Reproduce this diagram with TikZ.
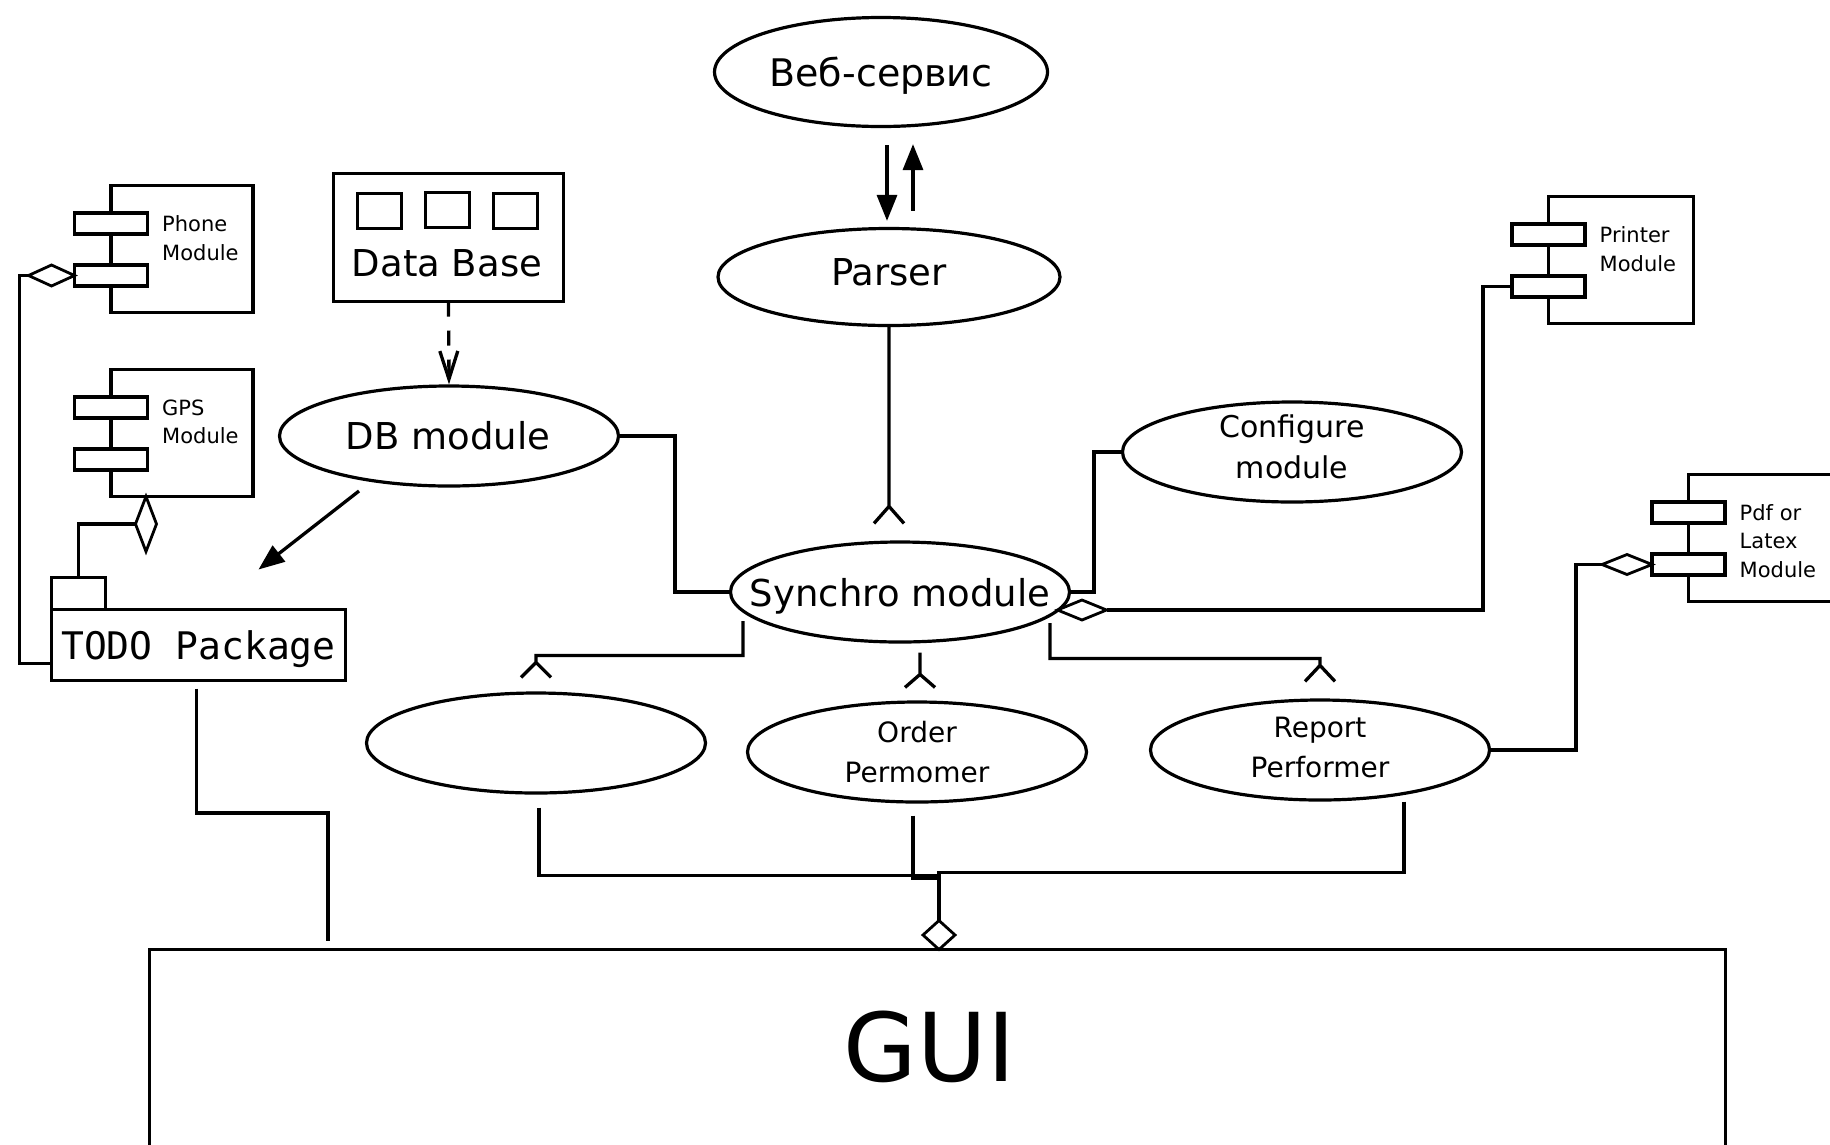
\documentclass[tikz,border=0pt]{standalone}
\usepackage{fontspec}
\setmainfont{DejaVu Sans}
\newfontfamily\dgmono{DejaVu Sans Mono}
\usetikzlibrary{shapes.geometric,arrows.meta,calc}

\tikzset{
  conn/.style={line width=3.3pt},
  farrow/.style={conn, -{Triangle[length=26pt,width=20pt]}},
  uc/.style={ellipse, draw, line width=3.2pt, inner sep=0pt,
    minimum width=339pt, minimum height=100pt, align=center},
  big/.style={font=\fontsize{37pt}{44pt}\selectfont, text depth=0pt},
  mid/.style={font=\fontsize{30pt}{41pt}\selectfont},
  small/.style={font=\fontsize{28pt}{40pt}\selectfont},
  lbl/.style={inner sep=0pt, align=center},
  boxst/.style={rectangle, draw, line width=3.3pt, inner sep=0pt, outer sep=0pt},
  sq/.style={boxst, minimum width=44pt, minimum height=35pt},
  portbox/.style={boxst, fill=white, minimum width=73pt, minimum height=21pt},
  comptext/.style={inner sep=0pt, align=left,
    font=\fontsize{21pt}{28.5pt}\selectfont},
  agg/.style={diamond, draw, fill=white, line width=2.8pt, inner sep=0pt, outer sep=0pt},
  % UML component: box, two ports on its left edge, label
  pics/component/.style n args={3}{code={
    \node[boxst, minimum width=#2, minimum height=127pt, anchor=north west] (-box) at (0,0) {};
    \node[portbox] (-p1) at (0,38) {};
    \node[portbox] (-p2) at (0,90) {};
    \node[comptext, anchor=west] (-t) at (51,#3) {#1};
  }}
}

\begin{document}
\begin{tikzpicture}[x=1pt,y=-1pt]
\useasboundingbox (0,0) rectangle (1830,1144);
\clip (0,0) rectangle (1830,1144);

% use cases (ellipses of fixed size, labels set on top)
\node[uc, minimum width=333pt, minimum height=109pt] (web) at (881,72) {};
\node[uc, minimum width=342pt, minimum height=97pt] (parser) at (889,277) {};
\node[uc] (db) at (449,436) {};
\node[uc] (sync) at (900,592) {};
\node[uc] (conf) at (1292,452) {};
\node[uc] (blank) at (536,743) {};
\node[uc] (order) at (917,752) {};
\node[uc] (report) at (1320,750) {};

\node[lbl, big, font=\fontsize{38pt}{44pt}\selectfont] (web-t) at (web.center) {Веб-сервис};
\node[lbl, big] (parser-t) at ($(parser.center)+(0,-5)$) {Parser};
\node[lbl, big] (db-t) at ($(db.center)+(-1,-1)$) {DB module};
\node[lbl, big] (sync-t) at (sync.center) {Synchro module};
\node[lbl, mid] (conf-t) at ($(conf.center)+(0,-5)$) {Configure\\module};
\node[lbl, small] (order-t) at (order.center) {Order\\Permomer};
\node[lbl, small] (report-t) at ($(report.center)+(0,-3)$) {Report\\Performer};

% data base
\node[boxst, minimum width=230pt, minimum height=128pt] (dbase) at (448.5,237.5) {};
\node[lbl, big] (dbase-t) at (447,263) {Data Base};
\node[sq] (dbase-s1) at ($(dbase.center)+(-69,-26.5)$) {};
\node[sq] (dbase-s2) at ($(dbase.center)+(-1,-27.5)$) {};
\node[sq] (dbase-s3) at ($(dbase.center)+(67,-26.5)$) {};

% components
\pic (phone) at (111,185.5) {component={Phone\\Module}{142pt}{52.5}};
\pic (gps) at (111,369.5) {component={GPS\\Module}{142pt}{52.5}};
\pic (printer) at (1548.5,196.5) {component={Printer\\Module}{145pt}{52.5}};
\pic (pdf) at (1688.5,474.5) {component={Pdf or\\Latex\\Module}{300pt}{66.5}};

% package
\node[boxst, minimum width=294pt, minimum height=71pt, font=\dgmono\fontsize{38pt}{44pt}\selectfont, text depth=0pt] (todo) at (198.5,645) {TODO Package};
\node[boxst, minimum width=54pt, minimum height=32pt, anchor=south west] (todotab) at (todo.north west) {};

% GUI
\node[boxst, anchor=north west, minimum width=1576pt, minimum height=300pt] (gui) at (149.5,949.5) {};
\node[lbl, font=\fontsize{95pt}{110pt}\selectfont, anchor=base] (gui-t) at ($(gui.north)+(-8,132)$) {GUI};

% aggregation diamonds
\node[agg, minimum width=46pt, minimum height=21pt, anchor=east] (phdia) at (phone-p2.west) {};
\node[agg, minimum width=21pt, minimum height=55pt, anchor=north] (gpsdia) at ([xshift=-36pt]gps-box.south) {};
\node[agg, minimum width=49pt, minimum height=20pt] (pdia) at ($(sync.center)+(182,18)$) {};
\node[agg, minimum width=50pt, minimum height=20pt, anchor=east] (pdfdia) at (pdf-p2.west) {};
\node[agg, minimum width=32pt, minimum height=29pt, anchor=south] (gdia) at ([xshift=1.5pt]gui.north) {};

% web service <-> parser
\draw[farrow] ([xshift=6pt,yshift=-17pt]web.south) -- ([xshift=-2pt,yshift=6pt]parser.north);
\draw[farrow] ([xshift=24pt,yshift=16pt]parser.north) -- ([xshift=32pt,yshift=-16pt]web.south);

% parser -- synchro
\coordinate (fk1) at ([xshift=-11pt,yshift=34pt]sync.north);
\draw[conn] (parser.south) -- (fk1) -- ++(-15,17) (fk1) -- ++(15,17);

% data base -> DB module
\draw[conn, dash pattern=on 15pt off 14pt, -{Straight Barb[length=28pt,width=18pt]}] (dbase.south) -- (db.north);

% DB module -> package
\draw[farrow] ($(db.center)+(-90,55)$) -- ($(todo.north)+(60,-40)$);

% modules around synchro
\draw[conn] (db.east) -- ++(55,0) |- (sync.west);
\draw[conn] (conf.west) -- ++(-27,0) |- (sync.east);
\draw[conn] (printer-p2.west) -- ++(-29,0) |- (pdia.east);
\draw[conn] (pdfdia.west) -- ++(-26,0) |- (report.east);

% phone and GPS into the package
\draw[conn] (phdia.west) -- ++(-9,0) |- ($(todo.south west)+(0,-17)$);
\draw[conn] (gpsdia.west) -| (todotab.north);

% synchro lower branches
\coordinate (fk2) at ($(blank.north)+(0,-29)$);
\draw[conn] ($(sync.center)+(-157,29)$) |- ($(fk2)+(0,-7)$) -- (fk2) -- ++(-15,15) (fk2) -- ++(15,15);
\coordinate (fk3) at ($(order.north)+(3,-26)$);
\draw[conn] ($(sync.south)+(20,9)$) -- (fk3) -- ++(-15,13) (fk3) -- ++(15,13);
\coordinate (fk4) at ($(report.north)+(0,-33)$);
\draw[conn] ($(sync.center)+(150,31)$) |- ($(fk4)+(0,-7)$) -- (fk4) -- ++(-15,16) (fk4) -- ++(15,16);

% performers into the GUI
\coordinate (jn) at ($(gdia.north)+(0,-45)$);
\draw[conn] ($(blank.south)+(3,13)$) |- (jn);
\draw[conn] ($(order.south)+(-4,12)$) |- ($(jn)+(0,3)$);
\draw[conn] ($(report.south)+(84,0)$) |- ($(jn)+(0,-3)$) -- (gdia.north);

% package -> GUI
\draw[conn] ($(todo.south)+(-2,8)$) |- ($(gui.north west)+(178.5,-136.5)$) -- ($(gui.north west)+(178.5,-8.5)$);
\end{tikzpicture}
\end{document}
